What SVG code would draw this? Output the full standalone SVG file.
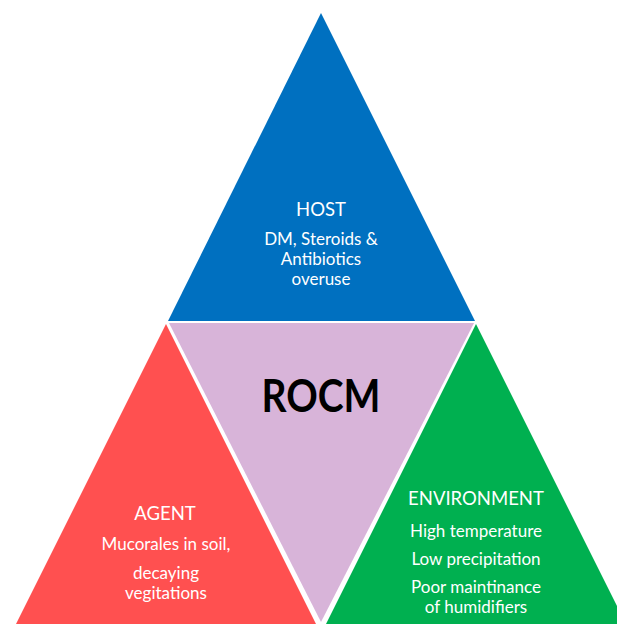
<svg xmlns="http://www.w3.org/2000/svg" width="617" height="624" viewBox="0 0 617 624">
  <style>
    .lbl { font-family: Lato, "Open Sans", "Liberation Sans", sans-serif; fill: #ffffff; text-anchor: middle; }
    .title { font-size: 18.5px; }
    .body { font-size: 17px; }
    .core { font-family: Lato, "Liberation Sans", sans-serif; font-weight: bold; font-size: 46px; fill: #000000; text-anchor: middle; }
  </style>
  <rect width="617" height="624" fill="#ffffff"/>

  <g id="host">
    <polygon points="321,13 168,321 475,321" fill="#0070C0"/>
    <text class="lbl title" x="321" y="216">HOST</text>
    <text class="lbl body" x="321" y="245">DM, Steroids &amp;</text>
    <text class="lbl body" x="321" y="265">Antibiotics</text>
    <text class="lbl body" x="321" y="285">overuse</text>
  </g>

  <g id="rocm">
    <polygon points="169,323 474,323 321,622" fill="#D8B4D9"/>
    <text class="core" x="321" y="412" textLength="119" lengthAdjust="spacingAndGlyphs">ROCM</text>
  </g>

  <g id="agent">
    <polygon points="166,324 15,626 317,626" fill="#FF5050"/>
    <text class="lbl title" x="165" y="520">AGENT</text>
    <text class="lbl body" x="166" y="550">Mucorales in soil,</text>
    <text class="lbl body" x="166" y="579">decaying</text>
    <text class="lbl body" x="166" y="599">vegitations</text>
  </g>

  <g id="environment">
    <polygon points="476,324 325,626 627,626" fill="#00B050"/>
    <text class="lbl title" x="476" y="505">ENVIRONMENT</text>
    <text class="lbl body" x="476" y="537">High temperature</text>
    <text class="lbl body" x="476" y="565">Low precipitation</text>
    <text class="lbl body" x="476" y="593">Poor maintinance</text>
    <text class="lbl body" x="476" y="613">of humidifiers</text>
  </g>

  <g id="connectors"/>
</svg>
